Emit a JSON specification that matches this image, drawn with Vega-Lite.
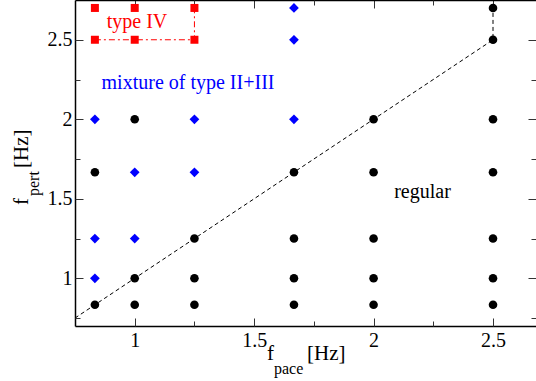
{
  "$schema": "https://vega.github.io/schema/vega-lite/v6.json",
  "autosize": "none",
  "width": 461,
  "height": 326,
  "padding": {"left": 75, "top": 0, "right": 0, "bottom": 55},
  "background": "white",
  "config": {
    "view": {"stroke": null},
    "font": "Liberation Serif",
    "axis": {
      "grid": false,
      "title": null,
      "domainColor": "#000000",
      "domainWidth": 1.5,
      "tickColor": "#333333",
      "tickWidth": 1,
      "labelFont": "Liberation Serif",
      "labelFontSize": 20,
      "labelColor": "#000000",
      "format": "~g"
    },
    "text": {"font": "Liberation Serif"}
  },
  "datasets": {
    "points": [
      {"fpace": 0.8333, "fpert": 0.8333, "kind": "regular"},
      {"fpace": 1, "fpert": 0.8333, "kind": "regular"},
      {"fpace": 1.25, "fpert": 0.8333, "kind": "regular"},
      {"fpace": 1.6667, "fpert": 0.8333, "kind": "regular"},
      {"fpace": 2, "fpert": 0.8333, "kind": "regular"},
      {"fpace": 2.5, "fpert": 0.8333, "kind": "regular"},
      {"fpace": 0.8333, "fpert": 1, "kind": "mixture"},
      {"fpace": 1, "fpert": 1, "kind": "regular"},
      {"fpace": 1.25, "fpert": 1, "kind": "regular"},
      {"fpace": 1.6667, "fpert": 1, "kind": "regular"},
      {"fpace": 2, "fpert": 1, "kind": "regular"},
      {"fpace": 2.5, "fpert": 1, "kind": "regular"},
      {"fpace": 0.8333, "fpert": 1.25, "kind": "mixture"},
      {"fpace": 1, "fpert": 1.25, "kind": "mixture"},
      {"fpace": 1.25, "fpert": 1.25, "kind": "regular"},
      {"fpace": 1.6667, "fpert": 1.25, "kind": "regular"},
      {"fpace": 2, "fpert": 1.25, "kind": "regular"},
      {"fpace": 2.5, "fpert": 1.25, "kind": "regular"},
      {"fpace": 0.8333, "fpert": 1.6667, "kind": "regular"},
      {"fpace": 1, "fpert": 1.6667, "kind": "mixture"},
      {"fpace": 1.25, "fpert": 1.6667, "kind": "mixture"},
      {"fpace": 1.6667, "fpert": 1.6667, "kind": "regular"},
      {"fpace": 2, "fpert": 1.6667, "kind": "regular"},
      {"fpace": 2.5, "fpert": 1.6667, "kind": "regular"},
      {"fpace": 0.8333, "fpert": 2, "kind": "mixture"},
      {"fpace": 1, "fpert": 2, "kind": "regular"},
      {"fpace": 1.25, "fpert": 2, "kind": "mixture"},
      {"fpace": 1.6667, "fpert": 2, "kind": "mixture"},
      {"fpace": 2, "fpert": 2, "kind": "regular"},
      {"fpace": 2.5, "fpert": 2, "kind": "regular"},
      {"fpace": 0.8333, "fpert": 2.5, "kind": "typeIV"},
      {"fpace": 1, "fpert": 2.5, "kind": "typeIV"},
      {"fpace": 1.25, "fpert": 2.5, "kind": "typeIV"},
      {"fpace": 1.6667, "fpert": 2.5, "kind": "mixture"},
      {"fpace": 2.5, "fpert": 2.5, "kind": "regular"},
      {"fpace": 0.8333, "fpert": 2.7, "kind": "typeIV"},
      {"fpace": 1, "fpert": 2.7, "kind": "typeIV"},
      {"fpace": 1.25, "fpert": 2.7, "kind": "typeIV"},
      {"fpace": 1.6667, "fpert": 2.7, "kind": "mixture"},
      {"fpace": 2.5, "fpert": 2.7, "kind": "regular"}
    ],
    "guides": [
      {"fpace": 0.75, "fpert": 0.75, "line": "diag", "o": 1},
      {"fpace": 2.5, "fpert": 2.5, "line": "diag", "o": 2},
      {"fpace": 2.5, "fpert": 2.7, "line": "diag", "o": 3},
      {"fpace": 0.8333, "fpert": 2.5, "line": "iv", "o": 1},
      {"fpace": 1.25, "fpert": 2.5, "line": "iv", "o": 2},
      {"fpace": 1.25, "fpert": 2.7, "line": "iv", "o": 3}
    ],
    "notes": [
      {"fpace": 1.0096, "fpert": 2.571, "label": "type IV", "kind": "typeIV"},
      {"fpace": 1.2231, "fpert": 2.19, "label": "mixture of type II+III", "kind": "mixture"},
      {"fpace": 2.2048, "fpert": 1.505, "label": "regular", "kind": "regular"}
    ],
    "titles": [
      {"fpace": 1.5538, "fpert": 0.4861, "label": "f", "part": "xmain"},
      {"fpace": 1.7213, "fpert": 0.4861, "label": "[Hz]", "part": "xmain"},
      {"fpace": 1.5831, "fpert": 0.3981, "label": "pace", "part": "xsub"},
      {"fpace": 0.5532, "fpert": 1.4609, "label": "f", "part": "ymain"},
      {"fpace": 0.5532, "fpert": 1.6935, "label": "[Hz]", "part": "ymain"},
      {"fpace": 0.5993, "fpert": 1.5175, "label": "pert", "part": "ysub"}
    ]
  },
  "resolve": {"axis": {"x": "independent", "y": "independent"}},
  "layer": [
    {
      "data": {"name": "guides"},
      "transform": [{"filter": "datum.line === 'diag'"}],
      "mark": {"type": "line", "color": "#000000", "strokeWidth": 1, "strokeDash": [4, 3]},
      "encoding": {
        "x": {"field": "fpace", "type": "quantitative",
              "scale": {"domain": [0.75, 2.68], "nice": false, "zero": false},
              "axis": {"orient": "bottom", "values": [1, 1.5, 2, 2.5], "ticks": false, "domain": true, "labelPadding": 4}},
        "y": {"field": "fpert", "type": "quantitative",
              "scale": {"domain": [0.7, 2.75], "nice": false, "zero": false},
              "axis": {"orient": "left", "values": [1, 1.5, 2, 2.5], "ticks": false, "domain": true, "labelPadding": 3}},
        "order": {"field": "o", "type": "quantitative"}
      }
    },
    {
      "data": {"name": "guides"},
      "transform": [{"filter": "datum.line === 'iv'"}],
      "mark": {"type": "line", "color": "#ff0000", "strokeWidth": 1, "strokeDash": [6, 3, 2, 3]},
      "encoding": {
        "x": {"field": "fpace", "type": "quantitative",
              "axis": {"orient": "bottom", "values": [1, 1.5, 2, 2.5], "ticks": true, "tickSize": -8, "labels": false, "domain": false}},
        "y": {"field": "fpert", "type": "quantitative",
              "axis": {"orient": "left", "values": [1, 1.5, 2, 2.5], "ticks": true, "tickSize": -8, "labels": false, "domain": false}},
        "order": {"field": "o", "type": "quantitative"}
      }
    },
    {
      "data": {"name": "points"},
      "transform": [{"filter": "datum.kind === 'regular'"}],
      "mark": {"type": "point", "filled": true, "opacity": 1, "shape": "circle", "size": 74, "color": "#000000"},
      "encoding": {
        "x": {"field": "fpace", "type": "quantitative",
              "axis": {"orient": "bottom", "values": [1.25, 1.75, 2.25], "ticks": true, "tickSize": -5, "labels": false, "domain": false}},
        "y": {"field": "fpert", "type": "quantitative",
              "axis": {"orient": "left", "values": [0.75, 1.25, 1.75, 2.25], "ticks": true, "tickSize": -5, "labels": false, "domain": false}}
      }
    },
    {
      "data": {"name": "points"},
      "transform": [{"filter": "datum.kind === 'mixture'"}],
      "mark": {"type": "point", "filled": true, "opacity": 1, "shape": "diamond", "size": 95, "color": "#0000ff"},
      "encoding": {
        "x": {"field": "fpace", "type": "quantitative", "axis": null},
        "y": {"field": "fpert", "type": "quantitative", "axis": null}
      }
    },
    {
      "data": {"name": "points"},
      "transform": [{"filter": "datum.kind === 'typeIV'"}],
      "mark": {"type": "point", "filled": true, "opacity": 1, "shape": "square", "size": 64, "color": "#ff0000"},
      "encoding": {
        "x": {"field": "fpace", "type": "quantitative", "axis": null},
        "y": {"field": "fpert", "type": "quantitative", "axis": null}
      }
    },
    {
      "data": {"name": "notes"},
      "mark": {"type": "text", "fontSize": 20, "align": "center", "baseline": "alphabetic", "font": "Liberation Serif"},
      "encoding": {
        "x": {"field": "fpace", "type": "quantitative",
              "axis": {"orient": "top", "values": [1, 1.5, 2, 2.5], "ticks": true, "tickSize": -8, "labels": false, "domain": true}},
        "y": {"field": "fpert", "type": "quantitative",
              "axis": {"orient": "right", "values": [1, 1.5, 2, 2.5], "ticks": true, "tickSize": -8, "labels": false, "domain": false}},
        "text": {"field": "label"},
        "color": {"field": "kind", "type": "nominal", "legend": null,
                  "scale": {"domain": ["regular", "mixture", "typeIV"], "range": ["#000000", "#0000ff", "#ff0000"]}}
      }
    },
    {
      "data": {"name": "titles"},
      "transform": [{"filter": "datum.part === 'xmain'"}],
      "mark": {"type": "text", "fontSize": 21, "align": "left", "baseline": "alphabetic", "color": "#000000", "font": "Liberation Serif"},
      "encoding": {
        "x": {"field": "fpace", "type": "quantitative",
              "axis": {"orient": "top", "values": [1.25, 1.75, 2.25], "ticks": true, "tickSize": -5, "labels": false, "domain": false}},
        "y": {"field": "fpert", "type": "quantitative",
              "axis": {"orient": "right", "values": [0.75, 1.25, 1.75, 2.25], "ticks": true, "tickSize": -5, "labels": false, "domain": false}},
        "text": {"field": "label"}
      }
    },
    {
      "data": {"name": "titles"},
      "transform": [{"filter": "datum.part === 'xsub'"}],
      "mark": {"type": "text", "fontSize": 16, "align": "left", "baseline": "alphabetic", "color": "#000000", "font": "Liberation Serif"},
      "encoding": {
        "x": {"field": "fpace", "type": "quantitative", "axis": null},
        "y": {"field": "fpert", "type": "quantitative", "axis": null},
        "text": {"field": "label"}
      }
    },
    {
      "data": {"name": "titles"},
      "transform": [{"filter": "datum.part === 'ymain'"}],
      "mark": {"type": "text", "fontSize": 21, "align": "left", "baseline": "alphabetic", "angle": 270, "color": "#000000", "font": "Liberation Serif"},
      "encoding": {
        "x": {"field": "fpace", "type": "quantitative", "axis": null},
        "y": {"field": "fpert", "type": "quantitative", "axis": null},
        "text": {"field": "label"}
      }
    },
    {
      "data": {"name": "titles"},
      "transform": [{"filter": "datum.part === 'ysub'"}],
      "mark": {"type": "text", "fontSize": 16, "align": "left", "baseline": "alphabetic", "angle": 270, "color": "#000000", "font": "Liberation Serif"},
      "encoding": {
        "x": {"field": "fpace", "type": "quantitative", "axis": null},
        "y": {"field": "fpert", "type": "quantitative", "axis": null},
        "text": {"field": "label"}
      }
    }
  ]
}
